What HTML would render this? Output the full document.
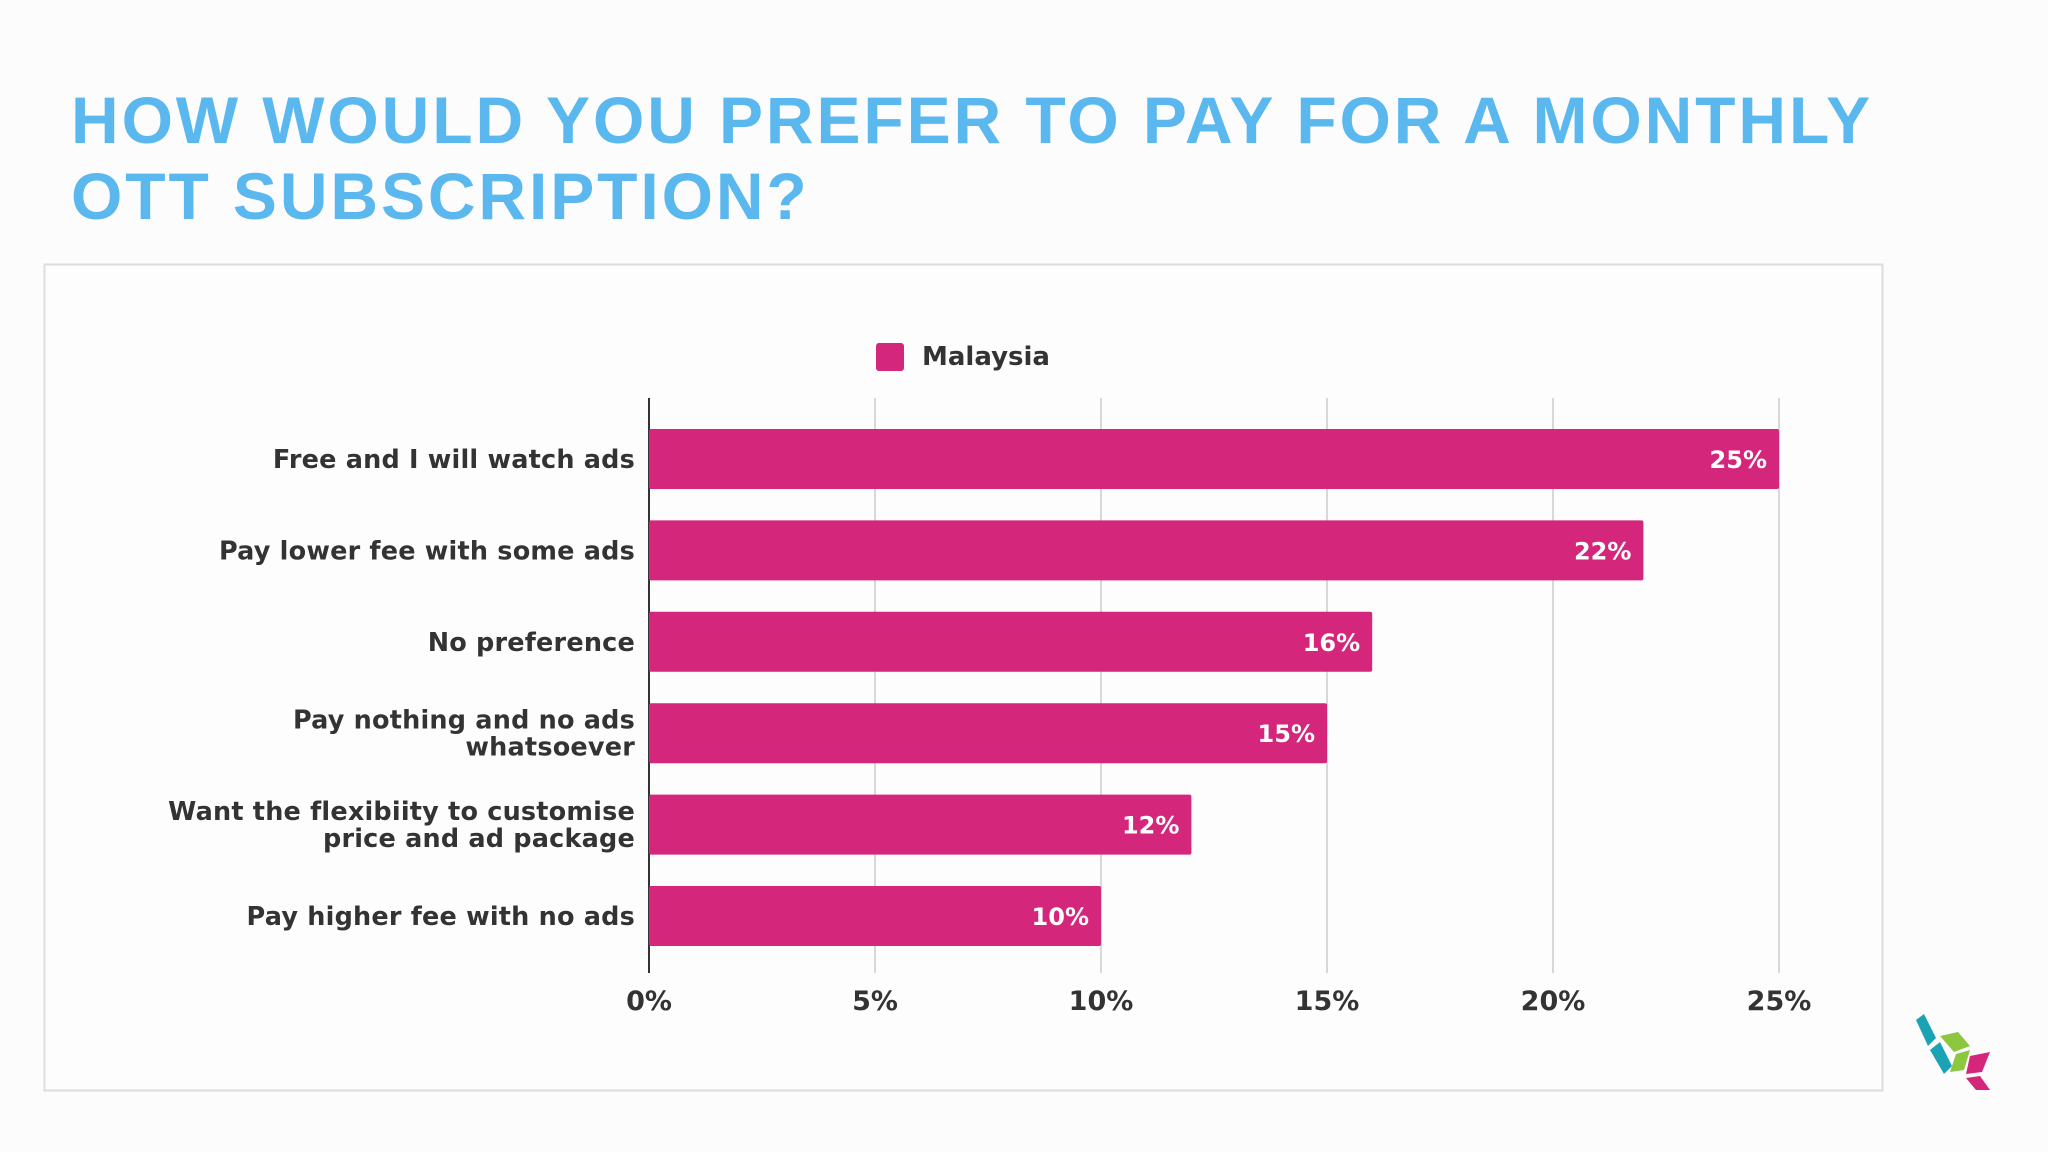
<!DOCTYPE html>
<html><head><meta charset="utf-8"><style>
body{margin:0;width:2048px;height:1152px;background:#fdfcfd;font-family:"Liberation Sans",Arial,sans-serif;overflow:hidden;position:relative}
.title{position:absolute;left:71px;top:82px;color:#5ab8ef;font-weight:bold;font-size:66px;line-height:76px;letter-spacing:2.9px;margin:0}
text{font-family:"DejaVu Sans","Liberation Sans",sans-serif}
</style></head><body>
<h1 class="title">HOW WOULD YOU PREFER TO PAY FOR A MONTHLY<br>OTT SUBSCRIPTION?</h1>
<svg id="chart" width="2048" height="1152" style="position:absolute;left:0;top:0">
<rect x="44.5" y="264.5" width="1838" height="826" fill="#fefdfe" stroke="#ddd" stroke-width="2"/>
<rect x="876" y="343" width="28" height="28" rx="3" fill="#d4267a"/>
<text x="922" y="365" font-size="26" font-weight="bold" fill="#333">Malaysia</text>
<g id="grid"></g><g id="bars"></g><g id="labels"></g>
<g>
<polygon points="1916,1020 1924,1014 1936,1038 1928,1046" fill="#1aa3b5"/>
<polygon points="1930,1050 1940,1042 1952,1066 1944,1074" fill="#1aa3b5"/>
<polygon points="1940,1036 1958,1032 1970,1046 1954,1052" fill="#8dc63f"/>
<polygon points="1956,1054 1970,1050 1964,1070 1950,1072" fill="#8dc63f"/>
<polygon points="1970,1056 1990,1052 1982,1072 1966,1074" fill="#d4267a"/>
<polygon points="1966,1078 1980,1076 1990,1090 1976,1090" fill="#d4267a"/>
</g>
</svg>
<script>
const categories=["Free and I will watch ads","Pay lower fee with some ads","No preference","Pay nothing and no ads|whatsoever","Want the flexibiity to customise|price and ad package","Pay higher fee with no ads"];
const values=[25,22,16,15,12,10];
const ticks=[0,5,10,15,20,25];
const tickLabels=["0%","5%","10%","15%","20%","25%"];
const NS="http://www.w3.org/2000/svg";
const x0=649,x1=1779,vmax=25,yTop=398,yBot=973,band=91.4,firstC=459,bh=60;
const xs=v=>x0+(x1-x0)*v/vmax;
const yc=i=>firstC+i*band;
function mk(t,a,p){const e=document.createElementNS(NS,t);for(const k in a)e.setAttribute(k,a[k]);p.appendChild(e);return e;}
const grid=document.getElementById('grid'),bars=document.getElementById('bars'),lab=document.getElementById('labels');
ticks.forEach((t,i)=>{
 const l=mk('line',{x1:xs(t),x2:xs(t),y1:yTop,y2:yBot,stroke:i==0?'#333':'#ccc','stroke-width':i==0?2:1.5},grid);
 
 
 const tx=mk('text',{x:xs(t),y:1010,'text-anchor':'middle','font-size':27,'font-weight':'bold',fill:'#333'},lab);
 tx.textContent=tickLabels[i];
 
 
});
values.forEach((v,i)=>{
 const r=mk('rect',{x:x0,y:yc(i)-bh/2,width:xs(v)-x0,height:bh,rx:2,fill:'#d4267a'},bars);
 
 
 const vt=mk('text',{x:xs(v)-12,y:yc(i)+9,'text-anchor':'end','font-size':24,'font-weight':'bold',fill:'#fff'},lab);
 vt.textContent=v+'%';
 
 
 const lines=categories[i].split('|');
 lines.forEach((s,j)=>{
  const y=yc(i)+9+(lines.length>1?(j-0.5)*27:0);
  const ct=mk('text',{x:635,y:y,'text-anchor':'end','font-size':25.5,'font-weight':'bold',fill:'#333','letter-spacing':0.2},lab);
  ct.textContent=s;
  
  
 });
});
</script>
</body></html>
